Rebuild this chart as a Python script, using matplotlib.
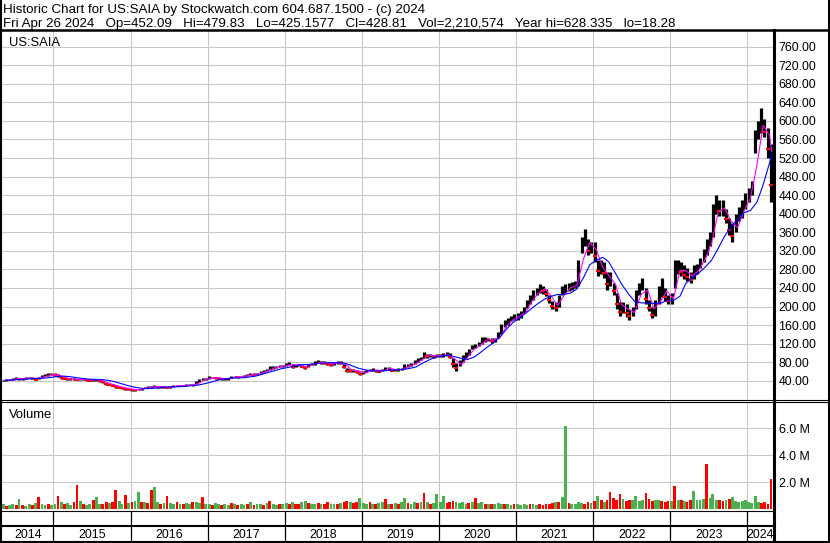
import numpy as np
import pandas as pd
import matplotlib
matplotlib.use("Agg")
import matplotlib.pyplot as plt
import matplotlib.dates as mdates
from matplotlib.lines import Line2D

plt.rcParams["font.family"] = ["Liberation Sans", "DejaVu Sans"]

# half-month bars, May 2014 - Apr 2024 (one row per calendar year)
high = [
    42, 43, 44, 46, 47, 46, 45, 47, 48, 49, 46, 48, 52, 54, 56, 56,
    56, 54, 49, 47, 46, 45, 45, 44, 44, 45, 44, 43, 44, 44, 43, 40, 36, 34, 33, 30, 28, 27, 25, 24,
    23, 22, 23, 24, 27, 28, 28, 30, 29, 28, 28, 27, 29, 30, 31, 31, 31, 32, 33, 33, 40, 43, 46, 46,
    50, 49, 48, 47, 46, 46, 46, 51, 51, 50, 51, 53, 54, 57, 56, 57, 60, 64, 65, 71, 71, 72, 74, 75,
    78, 81, 76, 75, 76, 74, 71, 77, 79, 82, 84, 83, 82, 80, 78, 81, 83, 82, 76, 68, 65, 66, 63, 59,
    61, 64, 66, 67, 64, 63, 65, 70, 70, 66, 66, 68, 68, 76, 76, 78, 84, 88, 92, 102, 98, 97, 96, 97,
    97, 99, 101, 100, 90, 78, 85, 95, 102, 108, 118, 120, 124, 134, 134, 133, 132, 133, 145, 162, 172, 175, 180, 184,
    185, 190, 200, 215, 225, 235, 240, 248, 245, 238, 225, 212, 210, 225, 245, 248, 250, 252, 256, 300, 350, 368, 345, 340,
    340, 300, 300, 295, 275, 275, 250, 230, 210, 210, 205, 195, 200, 235, 250, 262, 240, 215, 200, 215, 245, 262, 240, 225,
    230, 300, 300, 295, 290, 282, 275, 290, 292, 305, 325, 345, 360, 420, 440, 430, 430, 410, 390, 380, 400, 415, 430, 445,
    455, 470, 580, 600, 628, 605, 585, 550,
]
low = [
    39, 40, 41, 42, 43, 42, 42, 44, 45, 44, 41, 43, 47, 50, 51, 52,
    50, 48, 44, 43, 42, 42, 42, 41, 41, 42, 40, 39, 40, 40, 38, 35, 31, 30, 28, 25, 24, 23, 21, 20,
    18.5, 18.5, 19, 21, 24, 25, 25, 26, 25, 25, 25, 24, 25, 27, 28, 28, 28, 29, 30, 29, 32, 38, 41, 42,
    44, 45, 44, 43, 42, 42, 42, 45, 47, 46, 47, 49, 50, 52, 52, 52, 55, 59, 60, 64, 66, 67, 69, 70,
    71, 74, 68, 70, 71, 69, 66, 69, 74, 75, 78, 77, 76, 73, 72, 75, 77, 76, 68, 58, 58, 59, 56, 52,
    54, 58, 60, 62, 59, 58, 60, 63, 64, 60, 60, 62, 63, 66, 70, 72, 76, 80, 84, 90, 90, 91, 90, 92,
    91, 92, 94, 88, 70, 62, 72, 80, 88, 96, 108, 110, 114, 120, 124, 125, 122, 124, 132, 140, 155, 160, 168, 172,
    172, 176, 185, 196, 205, 215, 225, 230, 228, 222, 208, 195, 190, 200, 225, 230, 233, 235, 240, 245, 315, 330, 310, 315,
    295, 265, 270, 262, 236, 245, 225, 195, 180, 185, 178, 172, 180, 195, 225, 235, 205, 190, 175, 180, 205, 220, 212, 205,
    205, 240, 270, 265, 260, 255, 250, 260, 270, 282, 295, 310, 330, 350, 400, 395, 395, 380, 355, 340, 360, 385, 390, 410,
    425, 440, 530, 560, 575, 565, 520, 425,
]
# volume in millions of shares
volume = [
    0.35, 0.25, 0.3, 0.4, 0.28, 0.75, 0.3, 0.22, 0.35, 0.3, 0.45, 0.9, 0.35, 0.3, 0.4, 0.28,
    0.4, 1.0, 0.55, 0.35, 0.45, 0.3, 0.5, 1.8, 0.6, 0.35, 0.3, 0.4, 0.65, 0.9, 0.35, 0.4, 0.5, 0.45, 0.55, 1.45, 0.6, 0.4, 1.05, 0.45,
    0.5, 0.6, 1.25, 0.55, 0.5, 0.45, 1.4, 1.6, 0.5, 0.4, 0.45, 0.95, 0.45, 0.35, 0.5, 0.4, 0.35, 0.45, 0.4, 0.5, 0.55, 0.45, 0.9, 0.4,
    0.4, 0.3, 0.45, 0.35, 0.3, 0.4, 0.3, 0.45, 0.35, 0.3, 0.4, 0.3, 0.35, 0.5, 0.3, 0.35, 0.4, 0.3, 0.45, 0.6, 0.35, 0.3, 0.4, 0.35,
    0.45, 0.4, 0.55, 0.4, 0.35, 0.5, 0.6, 0.45, 0.35, 0.4, 0.45, 0.35, 0.4, 0.5, 0.4, 0.35, 0.4, 0.45, 0.5, 0.6, 0.5, 0.45, 0.55, 0.8,
    0.45, 0.4, 0.5, 0.35, 0.4, 0.45, 0.5, 0.75, 0.4, 0.35, 0.45, 0.4, 0.5, 0.8, 0.45, 0.4, 0.5, 0.45, 0.55, 1.2, 0.5, 0.4, 0.45, 1.1,
    0.5, 1.0, 0.45, 0.5, 0.6, 0.55, 0.45, 0.5, 0.4, 0.45, 0.5, 0.8, 0.45, 0.5, 0.4, 0.35, 0.4, 0.35, 0.45, 0.4, 0.35, 0.4, 0.3, 0.35,
    0.35, 0.3, 0.35, 0.3, 0.4, 0.35, 0.3, 0.35, 0.3, 0.35, 0.4, 0.45, 0.5, 0.5, 0.9, 6.2, 0.45, 0.4, 0.35, 0.5, 0.45, 0.4, 0.5, 0.45,
    0.6, 1.0, 0.7, 0.55, 0.65, 1.25, 0.8, 0.7, 1.15, 0.75, 0.6, 0.7, 0.65, 0.95, 0.6, 0.7, 1.2, 0.75, 0.6, 0.65, 0.7, 0.6, 0.55, 0.6,
    0.6, 1.7, 0.7, 0.65, 0.6, 0.55, 0.7, 1.35, 0.65, 0.7, 0.75, 3.35, 0.8, 1.1, 0.7, 0.65, 0.6, 0.7, 0.75, 0.9, 0.6, 0.55, 0.6, 0.65,
    0.5, 0.45, 1.0, 0.55, 0.45, 0.5, 0.4, 2.2,
]
vol_dir = (
    "GRGGRGRGGRGRGGRG"
    "GRGRGGRRGRGGRGGRRGRRGGRG"
    "RGGRGRRGGRGRGGRGRGGRGGRG"
    "GRGGRGGRGRGGRGRGGRGRGGRG"
    "GRGRRGGRGGRGRRGGRGRRGRRG"
    "GGRGRGGRGRGRGGRGGRGRGRGG"
    "GGRRRGGGGRGRGGRGRGGGRGGR"
    "GGGGRGGRRRRRGRGGRGGGGRRG"
    "RGRGRRRRRGRRGGGGRRRGGRRR"
    "GRGRGRRGGGGRGGGRRGRGGGGG"
    "GGGGRRRR"
)
# moving averages read at mid-month, plus the last day
ma_fast = [
    40.5, 42, 44.5, 43.8, 46, 45, 47.5, 52.8,
    53.5, 48.8, 44.5, 43.5, 42.5, 42.8, 41.5, 41.3, 35.5, 31.3, 26.8, 24,
    21.4, 20.6, 24, 26.5, 27.5, 26.5, 26.3, 29, 29.5, 31, 33.5, 42,
    45.5, 46.5, 44.5, 44, 48.5, 48.5, 51.5, 54.3, 56, 62, 68, 70.5,
    73.5, 74.8, 73, 70, 74.8, 79.8, 79.5, 75.8, 79, 75.5, 62.3, 61,
    56.5, 62, 63, 61.5, 66.8, 63, 65.3, 72, 77.5, 86, 95, 93.5,
    94.3, 96.5, 87, 74.3, 91.3, 107.5, 117, 128, 128, 133.5, 157.3, 170.8,
    178.3, 187.8, 210.3, 228.8, 237.8, 223.3, 201.8, 223.8, 240.3, 245.8, 302.5, 338.3,
    322.5, 283.8, 267, 248.8, 203.8, 194.5, 186.8, 226.3, 235.5, 195, 211.3, 233.5,
    216.3, 277.5, 277.5, 265.5, 278, 301.8, 336.3, 402.5, 412.5, 383.8, 370, 405,
    433.8, 505, 590.8, 568, 534,
]
ma_slow = [
    41, 41.5, 42.5, 43.5, 44, 45, 45.5, 47,
    49, 50, 49, 47, 45, 43.5, 43, 42.5, 41, 38, 34, 30,
    26.5, 24, 23, 23.5, 25, 26.5, 27, 27, 28, 29.5, 30.5, 33.5,
    37, 41, 44, 45.5, 46, 46.5, 48, 50, 54, 58, 62, 66,
    68.5, 72, 74.5, 75, 76, 78, 78.5, 79, 79, 77.5, 72, 67,
    63.5, 61.5, 61, 61.5, 62.5, 63.5, 64.5, 66.5, 70, 78, 85, 91,
    93.5, 95, 92, 88, 86, 91, 101, 112, 122, 134, 151, 165,
    175, 186, 196, 207, 216, 222, 226, 226, 229, 238, 262, 290,
    300, 306, 296, 272, 248, 228, 211, 208, 207, 207, 207, 213,
    213, 222, 250, 262, 272, 285, 300, 325, 352, 372, 388, 402,
    407, 425, 462, 510, 530,
]
years = list(range(2014, 2025))

bar_dates = pd.date_range("2014-05-01", periods=len(high), freq="SMS") + pd.Timedelta(days=7)
ma_dates = list(pd.date_range("2014-05-01", periods=120, freq="MS") + pd.Timedelta(days=15))
ma_dates.append(pd.Timestamp("2024-04-26"))

high = np.array(high, dtype=float)
low = np.array(low, dtype=float)
mid = (high + low) / 2
down = np.r_[False, mid[1:] < mid[:-1]]

W, H = 830, 543
fig = plt.figure(figsize=(W / 100, H / 100), dpi=100)


def box(x0, y0, x1, y1):
    return [x0 / W, 1 - y1 / H, (x1 - x0) / W, (y1 - y0) / H]


GRID = "#c8c8c8"
xlim = (pd.Timestamp("2014-05-02"), pd.Timestamp("2024-05-02"))
year_starts = [pd.Timestamp(f"{y}-01-01") for y in years[1:]]

ax = fig.add_axes(box(2, 30, 773, 400))
axv = fig.add_axes(box(2, 402, 773, 509))
axs = fig.add_axes(box(2, 511, 773, 526))
axy = fig.add_axes(box(2, 527, 773, 541))

for a in (ax, axv, axs, axy):
    a.set_xlim(*xlim)
    for s in a.spines.values():
        s.set_visible(False)
    a.set_xticks(year_starts)
    a.tick_params(axis="x", length=0, labelbottom=False)

# price panel
ax.vlines(bar_dates, low, high, color="black", lw=2.3, zorder=3)
ax.plot(bar_dates[down], (low + (high - low) * 0.3)[down], ls="none", marker="_",
        ms=2.5, mew=1.5, color="red", zorder=4)
ax.plot(ma_dates, ma_fast, color="#ff00ff", lw=0.8, zorder=5)
ax.plot(ma_dates, ma_slow, color="#0000ff", lw=0.8, zorder=5)
ax.set_ylim(-1.5, 796)
ax.set_yticks(range(40, 761, 40))
ax.set_yticklabels([f"{v:.2f}" for v in range(40, 761, 40)])
ax.yaxis.tick_right()
ax.tick_params(axis="y", length=0, pad=4, labelsize=8.9)
ax.grid(True, color=GRID, lw=0.75, zorder=0)
ax.text(7 / 771, 1 - 15.7 / 370, "US:SAIA", transform=ax.transAxes, fontsize=9.4,
        va="baseline", ha="left")

# volume panel
vcol = ["#4caf50" if c == "G" else "#ff0000" for c in vol_dir]
axv.bar(bar_dates, volume, width=13, color=vcol, zorder=3)
axv.set_ylim(0, 7.96)
axv.set_yticks([2, 4, 6])
axv.set_yticklabels(["2.0 M", "4.0 M", "6.0 M"])
axv.yaxis.tick_right()
axv.tick_params(axis="y", length=0, pad=4, labelsize=8.9)
axv.grid(True, color=GRID, lw=0.75, zorder=0)
axv.text(7 / 771, 1 - 16 / 107, "Volume", transform=axv.transAxes, fontsize=9.4,
         va="baseline", ha="left")

# date strip and year row
for a in (axs, axy):
    a.set_yticks([])
    for d in year_starts:
        a.axvline(d, color="black", lw=0.9)
bounds = [xlim[0]] + year_starts + [xlim[1]]
for y, a0, a1 in zip(years, bounds[:-1], bounds[1:]):
    axy.text(a0 + (a1 - a0) / 2, 0.45, str(y), ha="center", va="center",
             fontsize=8.9, transform=axy.get_xaxis_transform())

# frame lines
def hline(y, x0, x1, lw):
    fig.add_artist(Line2D([x0 / W, x1 / W], [1 - y / H, 1 - y / H], color="black", lw=lw))


def vline(x, y0, y1, lw):
    fig.add_artist(Line2D([x / W, x / W], [1 - y0 / H, 1 - y1 / H], color="black", lw=lw))


hline(30, 0, W, 1.8)
hline(400.3, 0, W, 0.8)
hline(402.2, 0, W, 0.8)
hline(510.6, 0, 775, 0.8)
hline(526.2, 0, 775, 1.5)
hline(542, 0, W, 1.5)
vline(1, 0, H, 1.5)
vline(829, 0, H, 1.5)
vline(774.3, 30, H, 2.2)

fig.text(3 / W, 1 - 13.3 / H,
         "Historic Chart for US:SAIA by Stockwatch.com 604.687.1500 - (c) 2024",
         fontsize=9.6, va="baseline", ha="left")
fig.text(3 / W, 1 - 27.3 / H,
         "Fri Apr 26 2024   Op=452.09   Hi=479.83   Lo=425.1577   Cl=428.81   "
         "Vol=2,210,574   Year hi=628.335   lo=18.28",
         fontsize=9.6, va="baseline", ha="left")

fig.savefig("out.png", dpi=100)
